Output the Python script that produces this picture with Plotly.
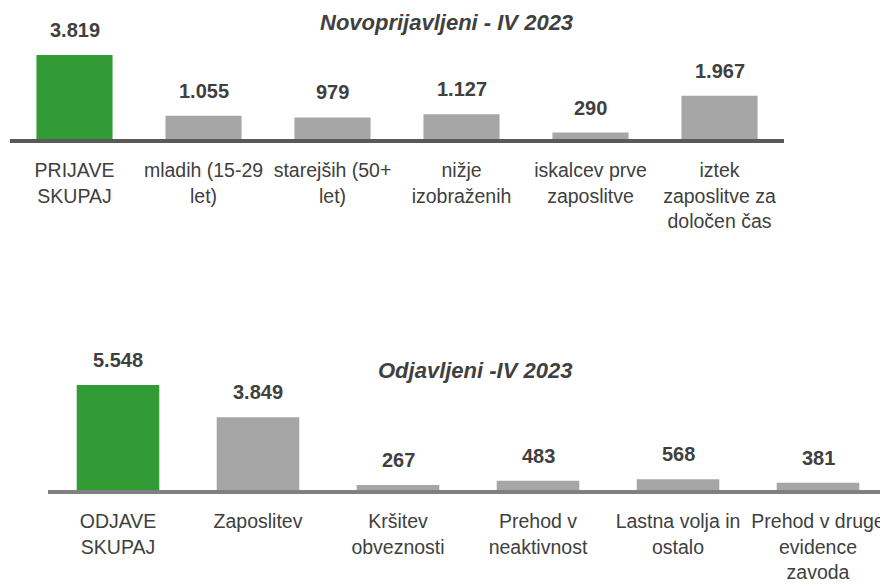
import plotly.graph_objects as go

# ---- data ----
top_title = "Novoprijavljeni - IV 2023"
top_categories = ["PRIJAVE<br>SKUPAJ", "mladih (15-29<br>let)", "starejših (50+<br>let)",
                  "nižje<br>izobraženih", "iskalcev prve<br>zaposlitve",
                  "iztek<br>zaposlitve za<br>določen čas"]
top_values = [3819, 1055, 979, 1127, 290, 1967]

bottom_title = "Odjavljeni -IV 2023"
bottom_categories = ["ODJAVE<br>SKUPAJ", "Zaposlitev", "Kršitev<br>obveznosti",
                     "Prehod v<br>neaktivnost", "Lastna volja in<br>ostalo",
                     "Prehod v druge<br>evidence<br>zavoda"]
bottom_values = [5548, 3849, 267, 483, 568, 381]

GREEN = "#339b36"
GRAY = "#a6a6a6"
TXT = "#404040"
FONT = "Liberation Sans, Arial, sans-serif"

# the page body has an 8px margin, so the figure is 8px smaller than the window
OFF = 8
W, H = 888 - OFF, 587 - OFF


def px_x(p):
    return (p - OFF) / W


def px_y(p):
    return 1 - (p - OFF) / H


def fmt(v):
    return f"{v:,}".replace(",", ".")


def colors(n):
    return [GREEN] + [GRAY] * (n - 1)


fig = go.Figure()
fig.add_trace(go.Bar(x=top_categories, y=top_values, marker=dict(color=colors(len(top_values)), line=dict(width=0)),
                     width=0.59, xaxis="x", yaxis="y", hoverinfo="skip", showlegend=False))
fig.add_trace(go.Bar(x=bottom_categories, y=bottom_values, marker=dict(color=colors(len(bottom_values)), line=dict(width=0)),
                     width=0.59, xaxis="x2", yaxis="y2", hoverinfo="skip", showlegend=False))

annotations = []
valfont = dict(family=FONT, size=20, color=TXT, weight="bold")
for c, v in zip(top_categories, top_values):
    annotations.append(dict(x=c, y=v, xref="x", yref="y", text=fmt(v), showarrow=False,
                            yanchor="middle", yshift=25, font=valfont))
for c, v in zip(bottom_categories, bottom_values):
    annotations.append(dict(x=c, y=v, xref="x2", yref="y2", text=fmt(v), showarrow=False,
                            yanchor="middle", yshift=25, font=valfont))

titlefont = dict(family=FONT, size=22, color=TXT, weight="bold", style="italic")
annotations.append(dict(x=px_x(446), y=px_y(22), xref="paper", yref="paper", text=top_title,
                        showarrow=False, xanchor="center", yanchor="middle", font=titlefont))
annotations.append(dict(x=px_x(475), y=px_y(370), xref="paper", yref="paper", text=bottom_title,
                        showarrow=False, xanchor="center", yanchor="middle", font=titlefont))

tickfont = dict(family=FONT, size=19.5, color=TXT)

fig.update_layout(
    width=W, height=H,
    margin=dict(l=0, r=0, t=0, b=0),
    paper_bgcolor="white", plot_bgcolor="white",
    bargap=0.41,
    annotations=annotations,
    xaxis=dict(domain=[px_x(10), px_x(784)], anchor="y", showline=True, linecolor="#595959", linewidth=3.5,
               showgrid=False, zeroline=False, ticks="", tickfont=tickfont, ticklabelstandoff=11,
               tickangle=0, automargin=False, fixedrange=True),
    yaxis=dict(domain=[px_y(139), px_y(40)], anchor="x", range=[0, 4500], visible=False,
               showgrid=False, zeroline=False, automargin=False, fixedrange=True),
    xaxis2=dict(domain=[px_x(48), 1.0], anchor="y2", showline=True, linecolor="#808080", linewidth=3.5,
                showgrid=False, zeroline=False, ticks="", tickfont=tickfont, ticklabelstandoff=11,
                tickangle=0, automargin=False, fixedrange=True),
    yaxis2=dict(domain=[px_y(490), px_y(367)], anchor="x2", range=[0, 6500], visible=False,
                showgrid=False, zeroline=False, automargin=False, fixedrange=True),
)

fig.write_html("out.html", config={"displayModeBar": False})
